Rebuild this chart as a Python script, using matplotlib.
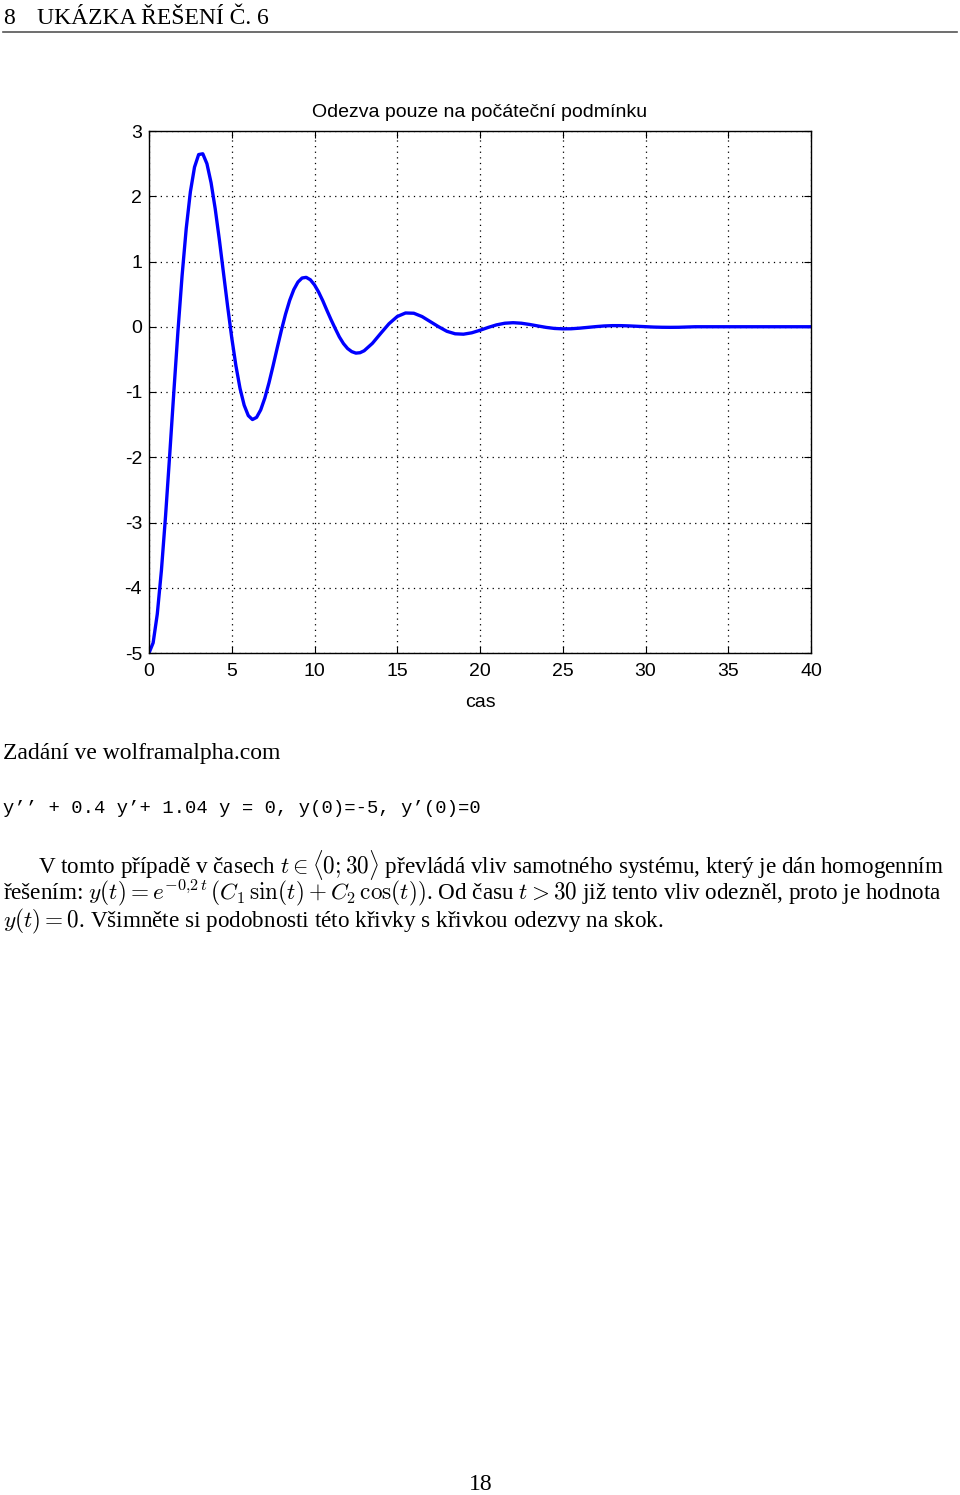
import matplotlib.pyplot as plt
from matplotlib.lines import Line2D

# hodnoty
cas = [0, 0.25, 0.5, 0.75, 1.0, 1.25, 1.5, 1.75, 2.0, 2.25, 2.5, 2.75,
       3.0, 3.25, 3.5, 3.75, 4.0, 4.25, 4.5, 4.75, 5.0, 5.25, 5.5, 5.75,
       6.0, 6.25, 6.5, 6.75, 7.0, 7.25, 7.5, 7.75, 8.0, 8.25, 8.5, 8.75,
       9.0, 9.25, 9.5, 9.75, 10.0, 10.25, 10.5, 10.75, 11.0, 11.25, 11.5, 11.75,
       12.0, 12.25, 12.5, 12.75, 13.0,
       13.5, 14, 14.5, 15, 15.5, 16, 16.5, 17, 17.5, 18, 18.5, 19, 19.5,
       20, 20.5, 21, 21.5, 22, 22.5, 23, 23.5, 24, 24.5, 25, 25.5, 26, 26.5,
       27, 27.5, 28, 28.5, 29, 29.5, 30, 30.5, 31, 31.5, 32, 33, 40]
odezva = [-5.000, -4.844, -4.404, -3.735, -2.901, -1.967, -1.001, -0.065,
          0.785, 1.507, 2.067, 2.446, 2.639, 2.651, 2.499, 2.208, 1.809,
          1.336, 0.826, 0.314, -0.169, -0.595, -0.945, -1.202, -1.362,
          -1.422, -1.389, -1.274, -1.092, -0.859, -0.596, -0.321, -0.053,
          0.193, 0.404, 0.570, 0.685, 0.747, 0.757, 0.720, 0.641, 0.531,
          0.399, 0.251, 0.108, -0.026, -0.155, -0.258, -0.334, -0.381,
          -0.404, -0.398, -0.368,
          -0.254, -0.102, 0.046, 0.157, 0.211, 0.207, 0.156, 0.078, 0.000,
          -0.070, -0.108, -0.114, -0.093, -0.054, -0.010, 0.029, 0.054,
          0.062, 0.054, 0.035, 0.012, -0.010, -0.026, -0.032, -0.031,
          -0.022, -0.010, 0.002, 0.012, 0.017, 0.017, 0.013, 0.007, 0.001,
          -0.005, -0.008, -0.009, -0.008, 0.0, 0.0]
x_ticks = [0, 5, 10, 15, 20, 25, 30, 35, 40]
y_ticks = [-5, -4, -3, -2, -1, 0, 1, 2, 3]

W, H = 960, 1495
plt.rcParams['mathtext.fontset'] = 'cm'
serif = ['Liberation Serif', 'DejaVu Serif']
sans = ['Liberation Sans', 'DejaVu Sans']

fig = plt.figure(figsize=(W / 100, H / 100), dpi=100)


def px(x, y):
    return x / W, 1 - y / H


# zahlavi stranky
fig.text(*px(3, 18), '8', family=serif, fontsize=17, va='center')
fig.text(*px(37, 18), 'UKÁZKA ŘEŠENÍ Č. 6', family=serif, fontsize=17, va='center')
fig.add_artist(Line2D([3 / W, 957 / W], [1 - 32 / H, 1 - 32 / H],
                      transform=fig.transFigure, color='#555555', lw=1.2))

# graf
ax = fig.add_axes([149 / W, 1 - 653 / H, 662 / W, 522 / H])
ax.plot(cas, odezva, color='#0000ff', lw=2.4)
ax.set_xlim(0, 40)
ax.set_ylim(-5, 3)
ax.set_xticks(x_ticks)
ax.set_yticks(y_ticks)
ax.set_xticklabels([str(v) for v in x_ticks], family=sans, fontsize=14)
ax.set_yticklabels([str(v) for v in y_ticks], family=sans, fontsize=14)
ax.tick_params(direction='in', length=5, width=0.8, top=True, right=True)
ax.tick_params(axis='x', pad=7)
ax.tick_params(axis='y', pad=5)
ax.grid(True, color='black', linestyle=(0, (1, 3.5)), lw=0.9)
for s in ax.spines.values():
    s.set_linewidth(1.0)
ax.set_title('Odezva pouze na počáteční podmínku', family=sans, fontsize=14, pad=10)
ax.set_xlabel('cas', family=sans, fontsize=14, labelpad=10)

# text pod grafem
fig.text(*px(3, 754), 'Zadání ve wolframalpha.com', family=serif, fontsize=17, va='center')
fig.text(*px(3, 809), 'y’’ + 0.4 y’+ 1.04 y = 0, y(0)=-5, y’(0)=0',
         family=['Liberation Mono', 'DejaVu Sans Mono'], fontsize=13.6, va='center')

fig.text(*px(38, 865), r'V tomto případě v časech $t \in \langle 0; 30\rangle$ převládá vliv '
         'samotného systému, který je dán homogenním',
         family=serif, fontsize=16.7, va='center')
fig.text(*px(3, 893), r'řešením: $y(t) = e^{-0{,}2\,t}\,(C_1\,\sin(t) + C_2\,\cos(t))$. '
         r'Od času $t > 30$ již tento vliv odezněl, proto je hodnota',
         family=serif, fontsize=16.7, va='center')
fig.text(*px(3, 921), r'$y(t) = 0$. Všimněte si podobnosti této křivky s křivkou odezvy na skok.',
         family=serif, fontsize=16.7, va='center')

fig.text(*px(481, 1484), '18', family=serif, fontsize=17, ha='center', va='center')

fig.savefig('out.png', dpi=100)
